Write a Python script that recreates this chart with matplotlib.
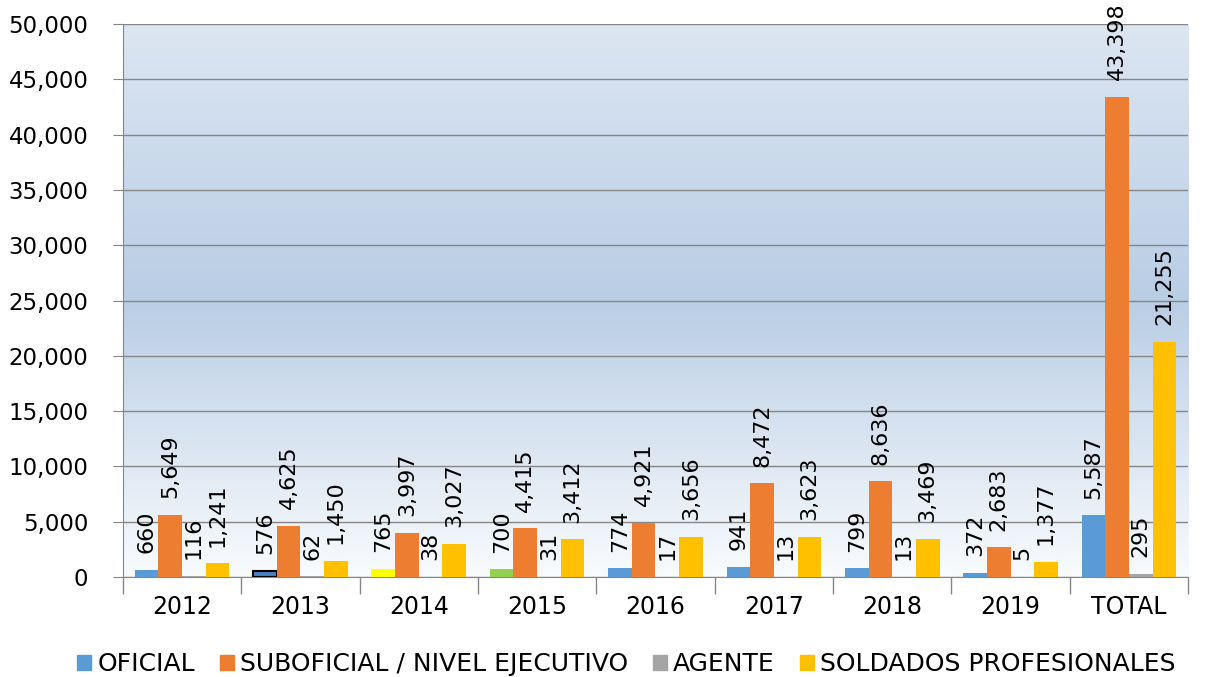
import matplotlib.pyplot as plt
import numpy as np
from matplotlib.colors import LinearSegmentedColormap
from matplotlib.ticker import FuncFormatter

categories = ["2012", "2013", "2014", "2015", "2016", "2017", "2018", "2019", "TOTAL"]
oficial = [660, 576, 765, 700, 774, 941, 799, 372, 5587]
suboficial = [5649, 4625, 3997, 4415, 4921, 8472, 8636, 2683, 43398]
agente = [116, 62, 38, 31, 17, 13, 13, 5, 295]
soldados = [1241, 1450, 3027, 3412, 3656, 3623, 3469, 1377, 21255]

series_names = ["OFICIAL", "SUBOFICIAL / NIVEL EJECUTIVO", "AGENTE", "SOLDADOS PROFESIONALES"]
series_colors = ["#5b9bd5", "#ed7d31", "#a5a5a5", "#ffc000"]
# odd colours used for a few OFICIAL bars in the original
oficial_colors = ["#5b9bd5", "#4a7fc0", "#ffff00", "#92d050", "#5b9bd5",
                  "#5b9bd5", "#5b9bd5", "#5b9bd5", "#5b9bd5"]

plt.rcParams['font.family'] = ['DejaVu Sans']

fig = plt.figure(figsize=(12.14, 6.77), dpi=100)
ax = fig.add_axes([0.1013, 0.1477, 0.8773, 0.8168])

# gradient background of the plot area
cmap = LinearSegmentedColormap.from_list("bg", [(0, "#dce6f2"), (0.5, "#b9cde5"), (1, "#f9fbfd")])
grad = np.linspace(0, 1, 256).reshape(-1, 1)
ax.imshow(grad, cmap=cmap, aspect='auto', extent=[-0.5, 8.5, 0, 50000], origin='upper', zorder=0)

x = np.arange(len(categories))
w = 0.2
offsets = [-0.3, -0.1, 0.1, 0.3]
all_vals = [oficial, suboficial, agente, soldados]

for i, vals in enumerate(all_vals):
    if i == 0:
        cols = oficial_colors
        edges = ["black" if c == "#4a7fc0" else "none" for c in cols]
        lws = [1.5 if c == "#4a7fc0" else 0 for c in cols]
        ax.bar(x + offsets[i], vals, w, color=cols, edgecolor=edges, linewidth=lws, zorder=3)
    else:
        ax.bar(x + offsets[i], vals, w, color=series_colors[i], zorder=3)
    for xi, v in zip(x + offsets[i], vals):
        ax.annotate(f"{v:,}", (xi, v), xytext=(0, 12), textcoords='offset points',
                    rotation=90, ha='center', va='bottom', fontsize=16, zorder=4,
                    annotation_clip=False)

ax.set_xlim(-0.5, 8.5)
ax.set_ylim(0, 50000)
ax.set_yticks(np.arange(0, 50001, 5000))
ax.yaxis.set_major_formatter(FuncFormatter(lambda v, p: f"{int(v):,}"))
ax.grid(axis='y', color="#868686", linewidth=1, zorder=1)
ax.set_axisbelow(True)

ax.set_xticks(x)
ax.set_xticklabels(categories)
ax.set_xticks(np.arange(-0.5, 9, 1), minor=True)
ax.tick_params(axis='x', which='major', length=0, labelsize=17, pad=13)
ax.tick_params(axis='x', which='minor', length=12, color="#868686", width=1)
ax.tick_params(axis='y', length=7, color="#868686", labelsize=16.5, pad=18)

for s in ["top", "right"]:
    ax.spines[s].set_visible(False)
for s in ["left", "bottom"]:
    ax.spines[s].set_color("#868686")

handles = [plt.Rectangle((0, 0), 1, 1, color=c) for c in series_colors]
fig.legend(handles, series_names, loc='lower center', ncol=4, frameon=False,
           fontsize=18, handlelength=0.55, handleheight=0.55, handletextpad=0.25,
           columnspacing=1.0, bbox_to_anchor=(0.516, -0.032))

fig.savefig("out.png", dpi=100)
